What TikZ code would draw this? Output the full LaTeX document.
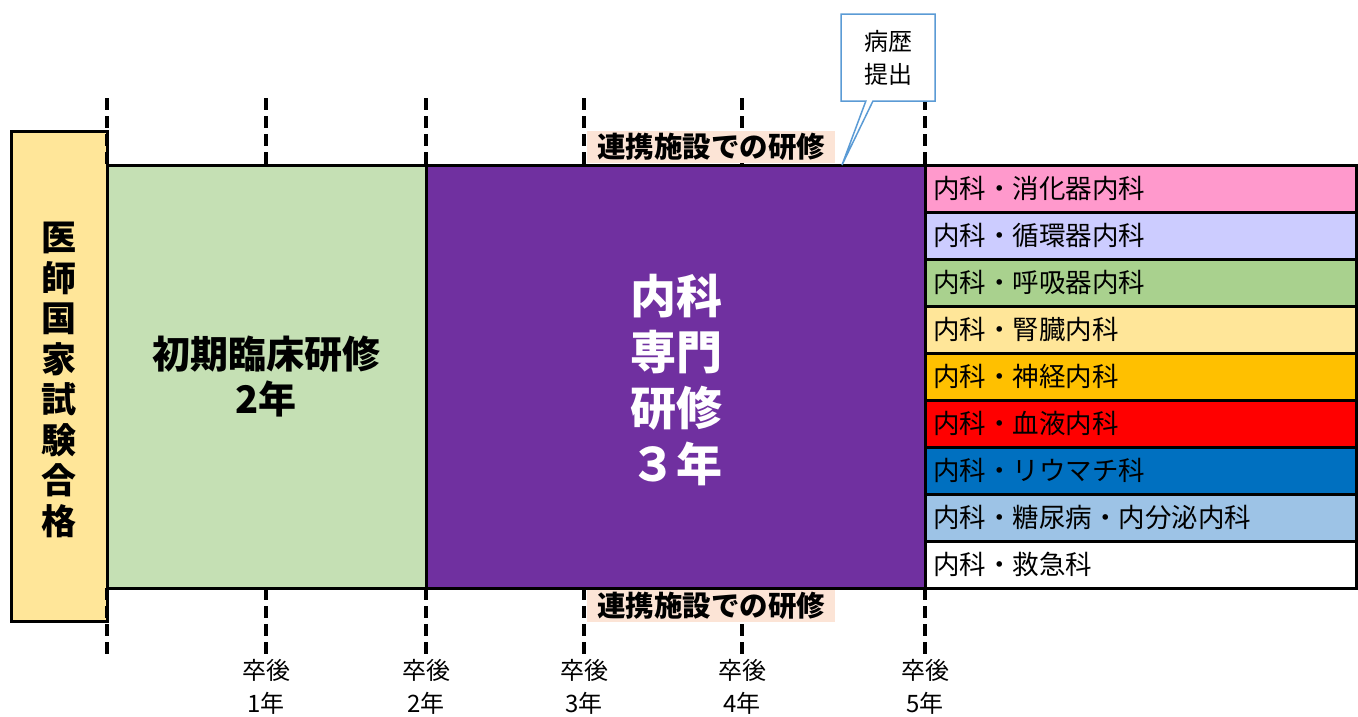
\documentclass[tikz,border=0pt]{standalone}
\usepackage{fontspec}
\setmainfont{Noto Sans CJK JP}
\usetikzlibrary{shapes.callouts}
\definecolor{cPass}{HTML}{FFE699}
\definecolor{cInit}{HTML}{C5E0B4}
\definecolor{cSpec}{HTML}{7030A0}
\definecolor{cPeach}{HTML}{FCE4D6}
\definecolor{cPink}{HTML}{FF99CC}
\definecolor{cLav}{HTML}{CCCCFF}
\definecolor{cGreen}{HTML}{A9D18E}
\definecolor{cYel}{HTML}{FFE699}
\definecolor{cOrange}{HTML}{FFC000}
\definecolor{cRed}{HTML}{FF0000}
\definecolor{cBlue}{HTML}{0070C0}
\definecolor{cLBlue}{HTML}{9DC3E6}
\definecolor{cCall}{HTML}{5B9BD5}
\begin{document}
\begin{tikzpicture}[x=1pt,y=-1pt,
  blk/.style={draw=black, line width=3pt, inner sep=0pt, outer sep=0pt},
  rowbox/.style={blk, minimum width=431pt, minimum height=47pt},
  rowtxt/.style={anchor=west, inner sep=0pt, font=\fontsize{26.5}{28}\selectfont},
  tick/.style={line width=4.5pt, dash pattern=on 12pt off 6pt},
  peach/.style={fill=cPeach, inner sep=0pt, minimum width=248pt, minimum height=32pt, font=\fontsize{28.5}{30}\selectfont\bfseries},
  yearlbl/.style={align=center, inner sep=0pt, font=\fontsize{24}{33}\selectfont}
]
\useasboundingbox (0,0) rectangle (1358,716);
% main blocks
\node[blk, fill=cPass, minimum width=96pt, minimum height=490pt] (pass) at (59,376) {};
\node[align=center, inner sep=0pt, font=\fontsize{35}{40.5}\selectfont\bfseries] (passtxt) at (59,380) {医\\師\\国\\家\\試\\験\\合\\格};
\node[blk, fill=cInit, minimum width=319pt, minimum height=423pt] (init) at (266.5,376.5) {};
\node[align=center, inner sep=0pt, font=\fontsize{38}{45}\selectfont\bfseries] (inittxt) at (266,377) {初期臨床研修\\2年};
\node[blk, fill=cSpec, minimum width=499pt, minimum height=423pt] (spec) at (675.5,376.5) {};
\node[align=center, inner sep=0pt, text=white, font=\fontsize{46}{56}\selectfont\bfseries] (spectxt) at (676,380) {内科\\専門\\研修\\３年};
% rows
\foreach \i/\c/\t in {0/cPink/内科・消化器内科,1/cLav/内科・循環器内科,2/cGreen/内科・呼吸器内科,3/cYel/内科・腎臓内科,4/cOrange/内科・神経内科,5/cRed/内科・血液内科,6/cBlue/内科・リウマチ科,7/cLBlue/内科・糖尿病・内分泌内科,8/white/内科・救急科}{
  \node[rowbox, fill=\c] (row\i) at (1140.5,{165+47*(\i+0.5)}) {};
  \node[rowtxt] (rowt\i) at (933,{165+47*(\i+0.5)}) {\t};
}
% tick coordinates
\foreach \n/\x in {a/107,b/266,c/426,d/584,e/742,f/925}{
  \coordinate (t\n1) at (\x,98);
  \coordinate (t\n2) at (\x,165);
  \coordinate (b\n1) at (\x,588);
  \coordinate (b\n2) at (\x,655);
  \draw[tick] (t\n1) -- (t\n2);
  \draw[tick] (b\n1) -- (b\n2);
}
% peach labels
\node[peach] (coopTop) at (711,147) {連携施設での研修};
\node[peach] (coopBot) at (711,606) {連携施設での研修};
% year labels
\node[yearlbl] (y1) at (266,687) {卒後\\1年};
\node[yearlbl] (y2) at (426,687) {卒後\\2年};
\node[yearlbl] (y3) at (584,687) {卒後\\3年};
\node[yearlbl] (y4) at (742,687) {卒後\\4年};
\node[yearlbl] (y5) at (925,687) {卒後\\5年};
% callout
\coordinate (tip) at (842,165);
\node[rectangle callout, callout absolute pointer={(tip)}, draw=cCall, fill=white, line width=1.5pt,
  minimum width=94pt, minimum height=87pt, inner sep=0pt, align=center,
  font=\fontsize{24}{33}\selectfont] (hist) at (888,57.5) {病歴\\提出};
\end{tikzpicture}
\end{document}
